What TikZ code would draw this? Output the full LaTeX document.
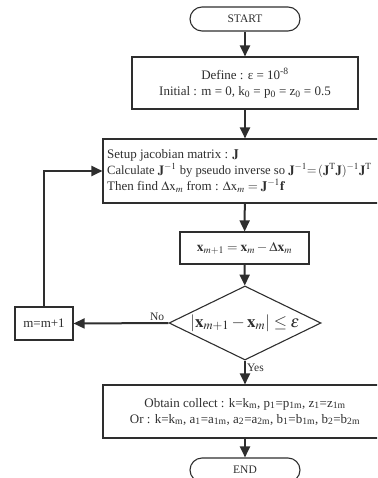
\documentclass[tikz,border=0pt]{standalone}
\usepackage{mathptmx}
\usepackage{fontspec}
\setmainfont{Liberation Serif}
\usetikzlibrary{shapes.geometric,arrows.meta}
\definecolor{ink}{HTML}{2E2E2E}
\begin{document}
\begin{tikzpicture}[x=1pt,y=-1pt,
  box/.style={draw=ink, line width=1.1pt, inner sep=0pt, text=ink},
  term/.style={draw=ink, line width=1.1pt, rounded corners=12pt,
    minimum width=110pt, minimum height=24pt, inner sep=0pt, text=ink,
    font=\fontsize{11.5}{13}\selectfont},
  decision/.style={draw=ink, line width=1.1pt, diamond, inner sep=0pt,
    minimum width=152pt, minimum height=74pt},
  flow/.style={draw=ink, line width=2pt, -{Triangle[length=11pt,width=10pt]}},
  txt/.style={font=\fontsize{13}{16}\selectfont, text=ink},
  lbl/.style={font=\fontsize{11.5}{13}\selectfont, text=ink, inner sep=1pt},
  ]
\useasboundingbox (0,0) rectangle (377,478);
\clip (0,0) rectangle (377,478);

% terminals
\node[term] (start) at (245,19) {START};
\node[term] (stop) at (245,470) {END};

% definitions and initial values
\node[box, txt, align=center, minimum width=226pt, minimum height=52pt]
  (define) at (245,83)
  {Define : ε = 10\textsuperscript{-8}\\
   Initial : m = 0, k\textsubscript{0} = p\textsubscript{0} = z\textsubscript{0} = 0.5};

% jacobian step
\node[box, minimum width=284pt, minimum height=64pt] (setup) at (245,171) {};
\node[txt, align=left, anchor=west, inner sep=0pt] (setuptext) at (107,171)
  {Setup jacobian matrix : $\mathbf{J}$\\
   {\fontsize{12.6}{16}\selectfont Calculate $\mathbf{J}^{\mathrm{-1}}$ by pseudo inverse so $\mathbf{J}^{\mathrm{-1}}{=}\,(\mathbf{J}^{\mathrm{T}}\mathbf{J})^{\mathrm{-1}}\mathbf{J}^{\mathrm{T}}$}\\
   Then find $\Delta\mathrm{x}_{m}$ from : $\Delta\mathrm{x}_{m} = \mathbf{J}^{\mathrm{-1}}\mathbf{f}$};

% update
\node[box, minimum width=129pt, minimum height=32pt, font=\fontsize{13.5}{16}\selectfont]
  (update) at (244.5,248)
  {$\mathbf{x}_{m+1} = \mathbf{x}_{m} - \Delta\mathbf{x}_{m}$};

% convergence test
\node[decision] (test) at (245,323) {};
\node[text=ink, font=\fontsize{17}{19}\selectfont, inner sep=0pt] (testtext) at (test.center)
  {$\left|\mathbf{x}_{m+1} - \mathbf{x}_{m}\right| \le \varepsilon$};

% counter
\node[box, txt, minimum width=58pt, minimum height=33pt] (incr) at (44,323.5) {m=m+1};

% results
\node[box, txt, align=center, minimum width=284pt, minimum height=53pt]
  (result) at (245,411.5)
  {Obtain collect : k=k\textsubscript{m}, p\textsubscript{1}=p\textsubscript{1m}, z\textsubscript{1}=z\textsubscript{1m}\\
   Or : k=k\textsubscript{m}, a\textsubscript{1}=a\textsubscript{1m}, a\textsubscript{2}=a\textsubscript{2m}, b\textsubscript{1}=b\textsubscript{1m}, b\textsubscript{2}=b\textsubscript{2m}};

% connectors
\draw[flow] (start) -- (define);
\draw[flow] (define) -- (setup);
\draw[flow] (setup) -- (update);
\draw[flow] (update) -- (test);
\draw[flow] (test.west) -- node[lbl, pos=0.12, above] {No} (incr.east);
\draw[flow] (incr.north) |- (setup.west);
\draw[flow] (test.south) -- node[lbl, pos=0.3, right] {Yes} (result.north);
\draw[flow] (result) -- (stop);
\end{tikzpicture}
\end{document}
